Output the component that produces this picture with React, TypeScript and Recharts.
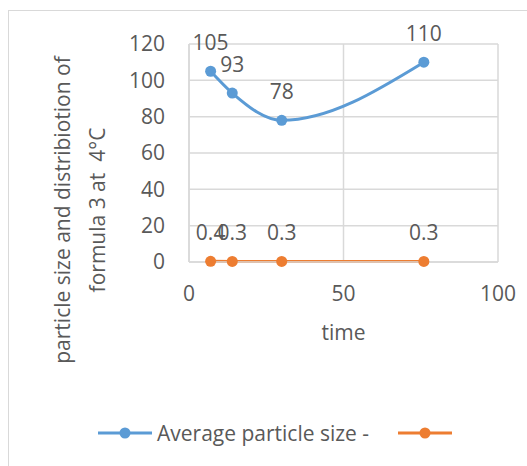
import React from 'react';
import { LineChart, Line, XAxis, YAxis, CartesianGrid, LabelList, Legend } from 'recharts';

const times = [7, 14, 30, 76];
const avgSize = [105, 93, 78, 110];
const distribution = [0.4, 0.3, 0.3, 0.3];
const xTicks = [0, 50, 100];
const yTicks = [0, 20, 40, 60, 80, 100, 120];
const seriesNames = ['Average particle size -', ''];
const yTitle = ['particle size and distribiotion of', 'formula 3 at  4°C'];
const xTitle = 'time';

const BLUE = '#5B9BD5';
const ORANGE = '#ED7D31';
const TEXT = '#595959';
const GRID = '#D9D9D9';
const FONT = '"Open Sans", sans-serif';
const FS = 21;

const data = times.map((t, i) => ({ t, size: avgSize[i], dist: distribution[i] }));

const YTitle = (props: any) => {
  const { viewBox } = props;
  const cy = viewBox.y + viewBox.height / 2 + 57;
  return (
    <g fill={TEXT} fontSize={FS} fontFamily={FONT}>
      <text x={62} y={cy} transform={`rotate(-90 62 ${cy})`} textAnchor="middle" dominantBaseline="central" xmlSpace="preserve">{yTitle[0]}</text>
      <text x={97} y={cy} transform={`rotate(-90 97 ${cy})`} textAnchor="middle" dominantBaseline="central" xmlSpace="preserve">{yTitle[1]}</text>
    </g>
  );
};

const XTitle = (props: any) => {
  const { viewBox } = props;
  const cx = viewBox.x + viewBox.width / 2;
  return (
    <text x={cx} y={viewBox.y + 70} fill={TEXT} fontSize={FS} fontFamily={FONT} textAnchor="middle" dominantBaseline="central">
      {xTitle}
    </text>
  );
};

const LegendContent = () => {
  const item = (color: string, name: string, x: number) => (
    <g key={color} transform={`translate(${x},0)`}>
      <line x1={0} y1={15} x2={54} y2={15} stroke={color} strokeWidth={3} />
      <circle cx={27} cy={15} r={5.5} fill={color} />
      {name && (
        <text x={59} y={15} fill={TEXT} fontSize={FS} fontFamily={FONT} dominantBaseline="central">{name}</text>
      )}
    </g>
  );
  return (
    <svg width={527} height={30} style={{ display: 'block' }}>
      {item(BLUE, seriesNames[0], 98)}
      {item(ORANGE, seriesNames[1], 398)}
    </svg>
  );
};

export default function App() {
  return (
    <div style={{ position: 'absolute', left: 0, top: 0, width: 527, height: 466, background: '#fff' }}>
      <svg width={527} height={466} style={{ position: 'absolute', left: 0, top: 0 }}>
        <line x1={8.5} y1={10} x2={8.5} y2={466} stroke={GRID} strokeWidth={1} />
        <line x1={8} y1={10.5} x2={527} y2={10.5} stroke={GRID} strokeWidth={1} />
      </svg>
      <div style={{ position: 'absolute', left: 0, top: 0 }}>
        <LineChart width={527} height={466} data={data} margin={{ top: 44, right: 29, left: 129, bottom: 18 }}>
          <CartesianGrid stroke={GRID} strokeWidth={1.5} />
          <XAxis
            dataKey="t"
            type="number"
            domain={[0, 100]}
            ticks={xTicks}
            height={156}
            tickSize={0}
            tickMargin={24}
            tickLine={false}
            axisLine={{ stroke: GRID, strokeWidth: 1.5 }}
            tick={{ fill: TEXT, fontSize: FS, fontFamily: FONT }}
            label={<XTitle />}
          />
          <YAxis
            type="number"
            domain={[0, 120]}
            ticks={yTicks}
            width={60}
            tickSize={0}
            tickMargin={24}
            tickLine={false}
            axisLine={{ stroke: GRID, strokeWidth: 1.5 }}
            tick={{ fill: TEXT, fontSize: FS, fontFamily: FONT }}
            label={<YTitle />}
          />
          <Legend
            verticalAlign="bottom"
            height={30}
            wrapperStyle={{ left: 0, width: 527 }}
            content={<LegendContent />}
          />
          <Line
            dataKey="size"
            name={seriesNames[0]}
            type="monotone"
            stroke={BLUE}
            strokeWidth={3}
            dot={{ r: 5.5, fill: BLUE, stroke: BLUE, strokeWidth: 0 }}
            isAnimationActive={false}
          >
            <LabelList dataKey="size" position="top" offset={21} fill={TEXT} fontSize={FS} fontFamily={FONT} />
          </Line>
          <Line
            dataKey="dist"
            name={seriesNames[1]}
            type="linear"
            stroke={ORANGE}
            strokeWidth={3}
            dot={{ r: 5.5, fill: ORANGE, stroke: ORANGE, strokeWidth: 0 }}
            isAnimationActive={false}
          >
            <LabelList dataKey="dist" position="top" offset={21} fill={TEXT} fontSize={FS} fontFamily={FONT} />
          </Line>
        </LineChart>
      </div>
    </div>
  );
}
